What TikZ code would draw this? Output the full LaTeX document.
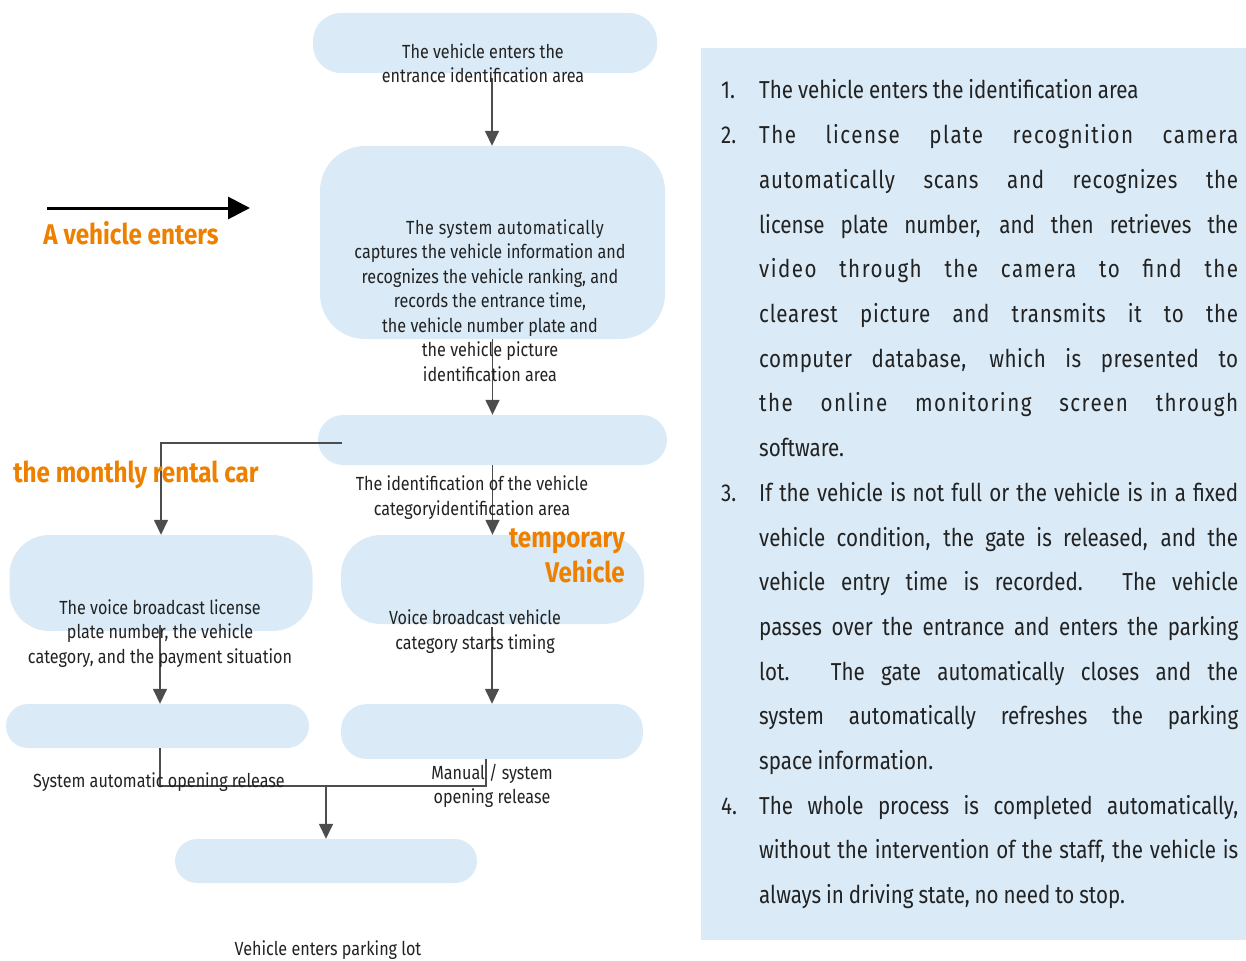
\documentclass[tikz,border=0pt]{standalone}
\usepackage{fontspec}
\setmainfont{Fira Sans}[FakeStretch=0.85]
\newfontfamily\listfont{Fira Sans}[FakeStretch=0.84]
\usetikzlibrary{arrows.meta}
\definecolor{boxblue}{HTML}{DAEBF7}
\definecolor{linegray}{HTML}{4D4D4D}
\definecolor{orng}{HTML}{EE8000}
\definecolor{txt}{HTML}{222222}
\newcommand\lstfontsetup{\listfont\fontsize{24.5}{30}\selectfont\spaceskip 0.2em plus 1fil\relax}
\newcommand\listline[3]{\node[lst, anchor=base west] (#1) at (759,#2+3) {#3};}
\newcommand\fl[1]{\makebox[479pt][s]{#1}}
\newcommand\sfl[2]{\makebox[479pt][s]{\addfontfeature{LetterSpace=#1}#2}}
\begin{document}
\begin{tikzpicture}[x=1pt,y=-1pt,
  box/.style={fill=boxblue,draw=none,rounded corners=#1,inner sep=0pt},
  lbl/.style={align=center,font=\fontsize{19}{24.5}\selectfont,text=txt,inner sep=0pt},
  orl/.style={font=\fontsize{28.5}{35}\selectfont\bfseries,text=orng,inner sep=0pt},
  lst/.style={font={\lstfontsetup},text=txt,inner sep=0pt},
  ln/.style={draw=linegray,line width=1.5pt},
  arr/.style={ln,-{Triangle[width=14pt,length=15pt]}}]
\useasboundingbox (0,0) rectangle (1246,960);

% boxes
\node[box=28pt,minimum width=344pt,minimum height=60pt] (b1) at (485,43) {};
\node[box=45pt,minimum width=345pt,minimum height=193pt] (b2) at (492.5,242.5) {};
\node[box=25pt,minimum width=349pt,minimum height=50pt] (b3) at (492.5,440) {};
\node[box=40pt,minimum width=303pt,minimum height=96pt] (b4) at (161,583) {};
\node[box=40pt,minimum width=303pt,minimum height=89pt] (b5) at (492.5,579.5) {};
\node[box=22pt,minimum width=303pt,minimum height=44pt] (b6) at (157.5,726) {};
\node[box=26pt,minimum width=302pt,minimum height=55pt] (b7) at (492,731.5) {};
\node[box=22pt,minimum width=302pt,minimum height=44pt] (b8) at (326,861) {};

% connectors
\coordinate (c1) at (492,78);
\draw[arr] (c1) -- (c1 |- b2.north);
\draw[arr] (b2.south) -- (b3.north);
\coordinate (c3) at (342,443);
\draw[arr] (c3) -| (b4.north);
\draw[arr] (b3.south) -- (b5.north);
\coordinate (c5) at (160,625);
\draw[arr] (c5) -- (c5 |- b6.north);
\coordinate (c6) at (492,627);
\draw[arr] (c6) -- (c6 |- b7.north);
\coordinate (c7) at (486,759);
\coordinate (m) at (326,786);
\draw[ln] (c5 |- b6.south) |- (c7 |- m) -- (c7);
\draw[arr] (m) -- (b8.north);

% texts
\node[lbl] (t1) at (483,63) {The vehicle enters the\\entrance identification area};
\node[lbl] (t2) at (490,300.5) {\hspace*{30pt}{\addfontfeature{LetterSpace=3}The system automatically}\\captures the vehicle information and\\recognizes the vehicle ranking, and\\records the entrance time,\\the vehicle number plate and\\the vehicle picture\\identification area};
\node[lbl] (t3) at (472,497.5) {The identification of the vehicle\\categoryidentification area};
\node[lbl] (t4) at (160,633.5) {The voice broadcast license\\plate number, the vehicle\\category, and the payment situation};
\node[lbl] (t5) at (475,631.5) {Voice broadcast vehicle\\category starts timing};
\node[lbl] (t6) at (159,782) {System automatic opening release};
\node[lbl] (t7) at (492,786) {Manual / system\\opening release};
\node[lbl] (t8) at (328,950) {Vehicle enters parking lot};

% orange labels
\coordinate (a0) at (47,208);
\coordinate (a1) at (250,208);
\draw[line width=3pt,-{Triangle[width=22pt,length=22pt]}] (a0) -- (a1);
\node[orl] (o1) at (131,233) {A vehicle enters};
\node[orl] (o2) at (136,475) {the monthly rental car};
\node[orl,align=right,anchor=east] (o3) at (625,556) {temporary\\Vehicle};

% right panel
\node[fill=boxblue,minimum width=545pt,minimum height=892pt,inner sep=0pt,anchor=north west] (panel) at (701,48) {};
\node[lst,anchor=base west] (n1) at (721,99) {1.};
\node[lst,anchor=base west] (n2) at (721,143.7) {2.};
\node[lst,anchor=base west] (n3) at (721,501.3) {3.};
\node[lst,anchor=base west] (n4) at (721,814.2) {4.};
\listline{l0}{96}{The vehicle enters the identification area}
\listline{l1}{140.7}{\sfl{6}{The license plate recognition camera}}
\listline{l2}{185.4}{\sfl{3}{automatically scans and recognizes the}}
\listline{l3}{230.1}{\fl{license plate number, and then retrieves the}}
\listline{l4}{274.8}{\sfl{6}{video through the camera to find the}}
\listline{l5}{319.5}{\sfl{3}{clearest picture and transmits it to the}}
\listline{l6}{364.2}{\sfl{2}{computer database, which is presented to}}
\listline{l7}{408.9}{\sfl{6}{the online monitoring screen through}}
\listline{l8}{453.6}{software.}
\listline{l9}{498.3}{\fl{If the vehicle is not full or the vehicle is in a fixed}}
\listline{l10}{543}{\fl{vehicle condition, the gate is released, and the}}
\listline{l11}{587.7}{\fl{vehicle entry time is recorded. The vehicle}}
\listline{l12}{632.4}{\fl{passes over the entrance and enters the parking}}
\listline{l13}{677.1}{\fl{lot. The gate automatically closes and the}}
\listline{l14}{721.8}{\fl{system automatically refreshes the parking}}
\listline{l15}{766.5}{space information.}
\listline{l16}{811.2}{\fl{The whole process is completed automatically,}}
\listline{l17}{855.9}{\fl{without the intervention of the staff, the vehicle is}}
\listline{l18}{900.6}{always in driving state, no need to stop.}
\end{tikzpicture}
\end{document}
